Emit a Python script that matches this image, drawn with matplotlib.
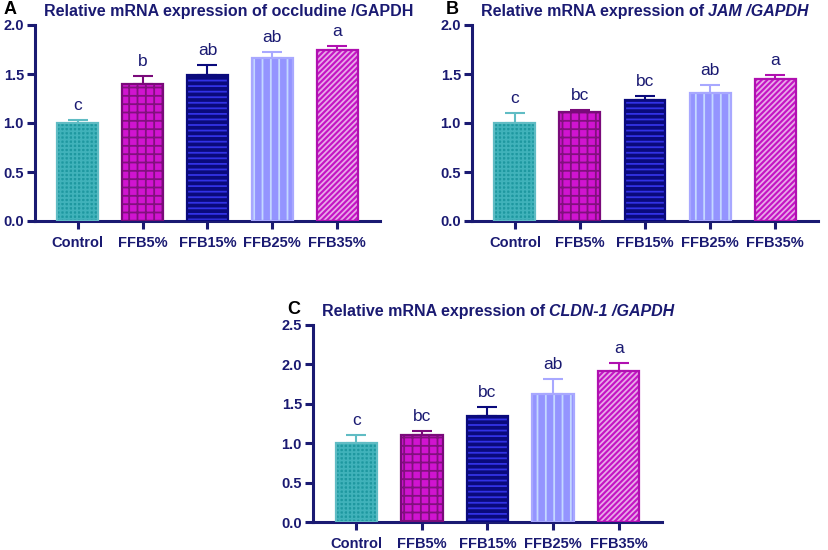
import matplotlib.pyplot as plt
import numpy as np

plt.rcParams['font.family'] = ['Liberation Sans', 'DejaVu Sans']
plt.rcParams['hatch.linewidth'] = 1.3

groups = ["Control", "FFB5%", "FFB15%", "FFB25%", "FFB35%"]

occl_mean = [1.00, 1.40, 1.49, 1.66, 1.75]
occl_sem = [0.03, 0.08, 0.10, 0.06, 0.04]
occl_sig = ["c", "b", "ab", "ab", "a"]

jam_mean = [1.00, 1.11, 1.23, 1.31, 1.45]
jam_sem = [0.10, 0.02, 0.05, 0.08, 0.04]
jam_sig = ["c", "bc", "bc", "ab", "a"]

cldn_mean = [1.00, 1.11, 1.35, 1.62, 1.92]
cldn_sem = [0.10, 0.05, 0.11, 0.20, 0.10]
cldn_sig = ["c", "bc", "bc", "ab", "a"]

navy = "#1a1a72"
face = ["#1e98a0", "#d014d0", "#0a0a7c", "#9494ff", "#c414c4"]
hatchcol = ["#40b2ba", "#82107e", "#3232e6", "#c4d8ff", "#e8a8e8"]
edge = ["#60bcc4", "#7a0a7a", "#0a0a7c", "#a8a8ff", "#b010b0"]
hatches = ["++++", "++", "---", "||", "//////"]


def panel(rect, mean, sem, sig, ymax, yticks, letter, lx, title_a, title_b):
    ax = fig.add_axes(rect)
    x = np.arange(len(groups))
    for i in range(len(groups)):
        ax.bar(x[i], mean[i], width=0.63, color=face[i], hatch=hatches[i],
               edgecolor=hatchcol[i], linewidth=0, zorder=2)
        ax.bar(x[i], mean[i], width=0.63, color="none", edgecolor=edge[i],
               linewidth=1.6, zorder=3)
        ax.errorbar(x[i], mean[i], yerr=[[0], [sem[i]]], color=edge[i],
                    capsize=7.5, elinewidth=1.5, capthick=1.5, zorder=1)
        ax.annotate(sig[i], (x[i], mean[i] + sem[i]), xytext=(0, 5),
                    textcoords="offset points", ha="center", va="bottom",
                    fontsize=12.5, color=navy)
    ax.set_xlim(-0.66, 4.66)
    ax.set_ylim(0, ymax)
    ax.set_yticks(yticks)
    ax.set_yticklabels([f"{t:.1f}" for t in yticks])
    ax.set_xticks(x)
    ax.set_xticklabels(groups)
    for s in ["top", "right"]:
        ax.spines[s].set_visible(False)
    for s in ["left", "bottom"]:
        ax.spines[s].set_linewidth(2.2)
        ax.spines[s].set_color(navy)
    ax.tick_params(axis="both", color=navy, width=2.2, length=6,
                   labelcolor=navy, labelsize=10.5)
    for lab in ax.get_xticklabels() + ax.get_yticklabels():
        lab.set_fontweight("bold")
    ax.tick_params(axis="x", pad=5)
    ax.tick_params(axis="y", pad=2)
    ax.text(lx, 1.035, letter, transform=ax.transAxes, fontsize=13,
            fontweight="bold", color="black", va="bottom")
    t1 = ax.text(0.025, 1.03, title_a, transform=ax.transAxes, fontsize=11.5,
                 fontweight="bold", color=navy, va="bottom")
    if title_b:
        ax.annotate(title_b, xy=(1, 0), xycoords=t1, va="bottom",
                    fontsize=11.5, fontweight="bold", color=navy,
                    style="italic")
    return ax


fig = plt.figure(figsize=(8.29, 5.50), dpi=100)

panel([35 / 829, 1 - 221 / 550, 345 / 829, 196 / 550], occl_mean, occl_sem,
      occl_sig, 2.0, [0.0, 0.5, 1.0, 1.5, 2.0], "A", -0.092,
      "Relative mRNA expression of occludine /GAPDH", "")
panel([472 / 829, 1 - 221 / 550, 346 / 829, 196 / 550], jam_mean, jam_sem,
      jam_sig, 2.0, [0.0, 0.5, 1.0, 1.5, 2.0], "B", -0.075,
      "Relative mRNA expression of ", "JAM /GAPDH")
panel([313 / 829, 1 - 522 / 550, 349 / 829, 197 / 550], cldn_mean, cldn_sem,
      cldn_sig, 2.5, [0.0, 0.5, 1.0, 1.5, 2.0, 2.5], "C", -0.075,
      "Relative mRNA expression of ", "CLDN-1 /GAPDH")

fig.savefig("out.png", dpi=100)
